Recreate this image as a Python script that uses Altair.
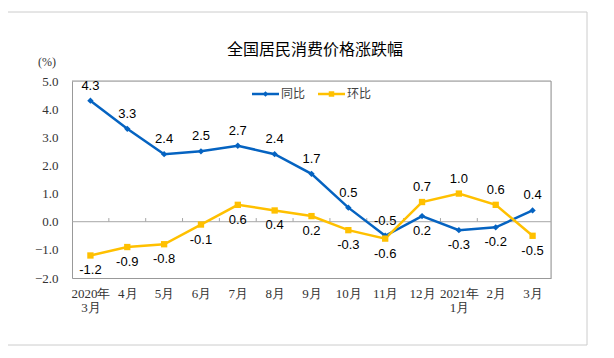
import altair as alt
import pandas as pd

months = ["2020年|3月", "4月", "5月", "6月", "7月", "8月", "9月", "10月", "11月", "12月", "2021年|1月", "2月", "3月"]
yoy = [4.3, 3.3, 2.4, 2.5, 2.7, 2.4, 1.7, 0.5, -0.5, 0.2, -0.3, -0.2, 0.4]
mom = [-1.2, -0.9, -0.8, -0.1, 0.6, 0.4, 0.2, -0.3, -0.6, 0.7, 1.0, 0.6, -0.5]
series_names = ["同比", "环比"]
colors = ["#0563C1", "#FFC000"]
shapes = ["diamond", "square"]
title_text = "全国居民消费价格涨跌幅"
unit_text = "(%)"
y_ticks = [-2, -1, 0, 1, 2, 3, 4, 5]

rows = []
for i, m in enumerate(months):
    rows.append({"month": m, "series": series_names[0], "value": yoy[i], "above": bool(yoy[i] >= mom[i])})
    rows.append({"month": m, "series": series_names[1], "value": mom[i], "above": bool(mom[i] > yoy[i])})
df = pd.DataFrame(rows)
df["label"] = df["value"].map(lambda v: f"{v:.1f}")

W, H = 479, 197
step = W / len(months)
border_col = "#999999"

x_scale = alt.Scale(type="point", padding=0.5)
y_scale = alt.Scale(domain=[-2, 5], nice=False, zero=False)

x_axis = alt.Axis(title=None, labelExpr="split(datum.value, '|')", labelAngle=0,
                  ticks=False, domain=True, domainColor=border_col, domainWidth=1,
                  labelFont="Liberation Serif",
                  labelFontSize=13, labelColor="#333333", labelPadding=9,
                  labelBaseline="top", labelLineHeight=14, labelOverlap=False, grid=False)
y_axis = alt.Axis(values=y_ticks, format=".1f", title=None, grid=False,
                  domain=True, domainColor=border_col, domainWidth=1,
                  ticks=False, labelPadding=14, labelFont="Liberation Serif",
                  labelFontSize=13, labelColor="#333333", labelOverlap=False)

x_enc = alt.X("month:N", sort=months, scale=x_scale, axis=x_axis)
y_enc = alt.Y("value:Q", scale=y_scale, axis=y_axis)
color_enc = alt.Color("series:N", scale=alt.Scale(domain=series_names, range=colors), legend=None)
shape_enc = alt.Shape("series:N", scale=alt.Scale(domain=series_names, range=shapes), legend=None)

base = alt.Chart(df)
one = alt.Data(values=[{}])

frame = alt.Chart(one).mark_rect(fillOpacity=0, stroke="#cccccc", strokeWidth=1).encode(
    x=alt.value(-65), x2=alt.value(515), y=alt.value(-69), y2=alt.value(264))

# plot-area border, built on the same scales as the data
b_top = alt.Chart(one).transform_calculate(z=str(y_ticks[-1])).mark_rule(color=border_col).encode(
    y=alt.Y("z:Q", scale=y_scale, axis=y_axis))
b_right = alt.Chart(pd.DataFrame({"month": months[-1:]})).mark_rule(
    color=border_col, xOffset=step / 2).encode(
    x=alt.X("month:N", sort=months, scale=x_scale, axis=x_axis))

zero = alt.Chart(one).transform_calculate(z="0").mark_rule(color="#a6a6a6", strokeWidth=1).encode(
    y=alt.Y("z:Q", scale=y_scale, axis=y_axis))

tick_df = pd.DataFrame({"month": months[1:]})
ticks = alt.Chart(tick_df).transform_calculate(z="0", z2="0.13").mark_rule(
    color="#a6a6a6", xOffset=-step / 2).encode(
    x=alt.X("month:N", sort=months, scale=x_scale, axis=x_axis),
    y=alt.Y("z:Q", scale=y_scale, axis=y_axis), y2="z2:Q")

lines = base.mark_line(strokeWidth=2.5).encode(x=x_enc, y=y_enc, color=color_enc, detail="series:N")
points = base.mark_point(filled=True, opacity=1, size=40).encode(
    x=x_enc, y=y_enc, color=color_enc, shape=shape_enc)

lab_kw = dict(font="Liberation Sans", fontSize=13, color="#000000", baseline="middle")
labels_up = base.transform_filter("datum.above").mark_text(dy=-15, **lab_kw).encode(
    x=x_enc, y=y_enc, text="label:N")
labels_dn = base.transform_filter("!datum.above").mark_text(dy=15, **lab_kw).encode(
    x=x_enc, y=y_enc, text="label:N")

# legend (drawn by hand, inside plot at top centre)
def legend_item(x0, name, color, shape):
    ln = alt.Chart(one).mark_rule(color=color, strokeWidth=2.5).encode(
        x=alt.value(x0), x2=alt.value(x0 + 27), y=alt.value(13))
    pt = alt.Chart(one).mark_point(filled=True, opacity=1, size=30, color=color, shape=shape).encode(
        x=alt.value(x0 + 13.5), y=alt.value(13))
    tx = alt.Chart(one).mark_text(align="left", baseline="middle", font="Noto Sans CJK SC",
                                  fontSize=12, color="#404040", text=name).encode(
        x=alt.value(x0 + 29), y=alt.value(13))
    return [ln, pt, tx]

legend_layers = legend_item(180, series_names[0], colors[0], shapes[0]) + \
    legend_item(246, series_names[1], colors[1], shapes[1])

title = alt.Chart(one).mark_text(font="Noto Sans CJK SC", fontSize=16, color="#000000",
                                 baseline="middle", align="center", text=title_text).encode(
    x=alt.value(243), y=alt.value(-31))
unit = alt.Chart(one).mark_text(font="Liberation Serif", fontSize=12, color="#333333",
                                baseline="middle", align="center", text=unit_text).encode(
    x=alt.value(-25), y=alt.value(-19))

chart = alt.layer(frame, b_top, b_right, zero, ticks, lines, points,
                  labels_up, labels_dn, *legend_layers, title, unit).properties(
    width=W, height=H,
    padding={"left": 64, "top": 73, "right": 55, "bottom": 69},
    autosize=alt.AutoSizeParams(type="none"),
).configure_view(stroke=border_col, strokeWidth=1).configure(background="white")

chart.save("out.html", embed_options={"renderer": "svg", "actions": False})
